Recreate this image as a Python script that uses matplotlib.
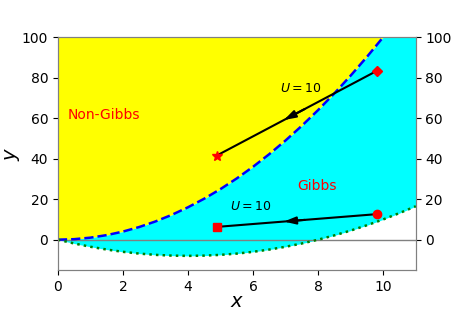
import matplotlib
matplotlib.use("Agg")
import matplotlib.pyplot as plt

# Curve samples
x_vals = [0.0, 0.5, 1.0, 1.5, 2.0, 2.5, 3.0, 3.5, 4.0, 4.5, 5.0, 5.5,
          6.0, 6.5, 7.0, 7.5, 8.0, 8.5, 9.0, 9.5, 10.0, 10.5, 11.0]
upper_curve = [0.0, 0.25, 1.0, 2.25, 4.0, 6.25, 9.0, 12.25, 16.0, 20.25, 25.0, 30.25,
               36.0, 42.25, 49.0, 56.25, 64.0, 72.25, 81.0, 90.25, 100.0, 110.25, 121.0]
lower_curve = [0.0, -1.875, -3.5, -4.875, -6.0, -6.875, -7.5, -7.875, -8.0, -7.875, -7.5, -6.875,
               -6.0, -4.875, -3.5, -1.875, 0.0, 2.125, 4.5, 7.125, 10.0, 13.125, 16.5]

# Trajectory endpoints
traj1_start = (9.8, 83.3)
traj1_end = (4.88, 41.5)
traj2_start = (9.8, 12.6)
traj2_end = (4.88, 6.3)

y_top = 100
y_bottom = -15

fig = plt.figure(figsize=(4.63, 3.09), dpi=100)
ax = fig.add_axes([0.125, 0.126, 0.773, 0.754])

ax.fill_between(x_vals, upper_curve, y_top, color="#ffff00", zorder=1, linewidth=0)
ax.fill_between(x_vals, lower_curve, upper_curve, color="#00ffff", zorder=1, linewidth=0)
ax.plot(x_vals, upper_curve, "b--", lw=1.8, zorder=3)
ax.plot(x_vals, lower_curve, color="green", ls=":", lw=1.8, zorder=3)
ax.axhline(0, color="gray", lw=1, zorder=2)

def traj(start, end, m_start, m_end, ms_start, ms_end):
    ax.plot([start[0], end[0]], [start[1], end[1]], color="black", lw=1.5, zorder=4)
    fx = 0.58
    tip = (start[0] + fx * (end[0] - start[0]), start[1] + fx * (end[1] - start[1]))
    base = (start[0] + 0.45 * (end[0] - start[0]), start[1] + 0.45 * (end[1] - start[1]))
    ax.annotate("", xy=tip, xytext=base,
                arrowprops=dict(arrowstyle="-|>,head_length=0.7,head_width=0.22",
                                color="black", lw=1.5, shrinkA=0, shrinkB=0),
                zorder=5)
    ax.plot(*start, marker=m_start, color="red", ms=ms_start, zorder=6, linestyle="none")
    ax.plot(*end, marker=m_end, color="red", ms=ms_end, zorder=6, linestyle="none")

traj(traj1_start, traj1_end, "D", "*", 5.5, 7)
traj(traj2_start, traj2_end, "o", "s", 6, 5.5)

ax.text(6.83, 74.4, r"$U=10$", fontsize=9, va="center", ha="left", zorder=7)
ax.text(5.3, 16.4, r"$U=10$", fontsize=9, va="center", ha="left", zorder=7)
ax.text(0.31, 61.6, "Non-Gibbs", color="red", fontsize=10, va="center", ha="left", zorder=7)
ax.text(7.35, 26.6, "Gibbs", color="red", fontsize=10, va="center", ha="left", zorder=7)

ax.set_xlim(0, 11)
ax.set_ylim(y_bottom, y_top)
ax.set_xticks([0, 2, 4, 6, 8, 10])
ax.set_yticks([0, 20, 40, 60, 80, 100])
ax.tick_params(labelsize=10)
ax.set_xlabel(r"$x$", fontsize=14, labelpad=-1)
ax.set_ylabel(r"$y$", fontsize=14, labelpad=0)

ax2 = ax.twinx()
ax2.set_ylim(y_bottom, y_top)
ax2.set_yticks([0, 20, 40, 60, 80, 100])
ax2.tick_params(labelsize=10)

for a in (ax, ax2):
    for s in a.spines.values():
        s.set_color("gray")

fig.savefig("out.png", dpi=100)
